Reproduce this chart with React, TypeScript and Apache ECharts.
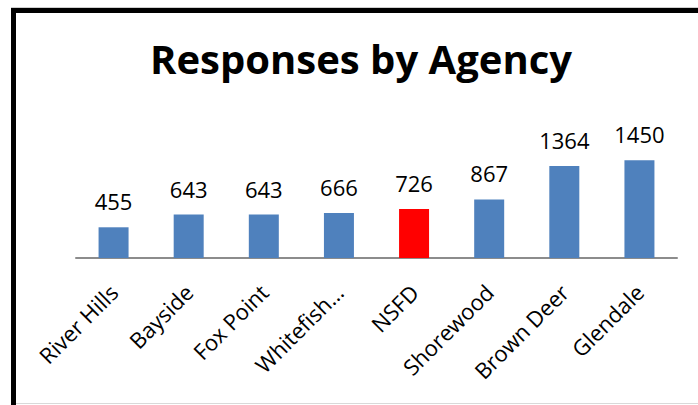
import React, { useEffect, useRef } from "react";
import * as echarts from "echarts";

const categories = ["River Hills", "Bayside", "Fox Point", "Whitefish…", "NSFD", "Shorewood", "Brown Deer", "Glendale"];
const responses = [455, 643, 643, 666, 726, 867, 1364, 1450];
const highlight = "NSFD";

const FONT = "'Open Sans', 'Liberation Sans', sans-serif";

export default function App() {
  const ref = useRef<HTMLDivElement>(null);
  useEffect(() => {
    document.body.style.margin = "0";
    const chart = echarts.init(ref.current!, null, { renderer: "svg" });
    chart.setOption({
      animation: false,
      backgroundColor: "#ffffff",
      title: {
        text: "Responses by Agency",
        left: 356,
        textAlign: "center",
        top: 33,
        textStyle: { fontFamily: FONT, fontWeight: "bold", fontSize: 40, color: "#000000" },
      },
      grid: { left: 76, right: 21, top: 123, bottom: 405 - 258 },
      xAxis: {
        type: "category",
        data: categories,
        axisLine: { lineStyle: { color: "#8c8c8c", width: 2 } },
        axisTick: { show: false },
        axisLabel: { rotate: 45, fontFamily: FONT, fontSize: 22, color: "#000000", margin: 30, interval: 0 },
      },
      yAxis: {
        type: "value",
        min: 0,
        max: 2000,
        show: false,
        splitLine: { show: false },
      },
      series: [
        {
          type: "bar",
          barWidth: 30,
          data: responses.map((v, i) => ({
            value: v,
            itemStyle: { color: categories[i] === highlight ? "#ff0000" : "#4f81bd" },
          })),
          label: { show: true, position: "top", distance: 15, fontFamily: FONT, fontSize: 22, color: "#000000" },
        },
      ],
      graphic: [
        { type: "rect", shape: { x: 11, y: 7, width: 687, height: 1 }, style: { fill: "#cfcfcf" }, silent: true },
        { type: "rect", shape: { x: 11, y: 8, width: 687, height: 5 }, style: { fill: "#000000" }, silent: true },
        { type: "rect", shape: { x: 11, y: 8, width: 5, height: 397 }, style: { fill: "#000000" }, silent: true },
        { type: "rect", shape: { x: 16, y: 403, width: 682, height: 1 }, style: { fill: "#d9d9d9" }, silent: true },
      ],
    });
    return () => chart.dispose();
  }, []);
  return <div ref={ref} style={{ position: "absolute", left: 0, top: 0, width: 698, height: 405 }} />;
}
